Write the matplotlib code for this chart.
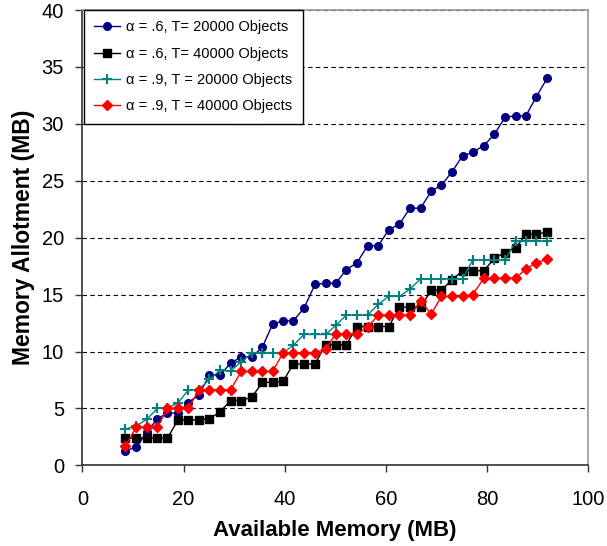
# Memory allotment vs. available memory for two alpha settings and two object counts

import matplotlib.pyplot as plt

plt.rcParams['font.family'] = ['Liberation Sans', 'DejaVu Sans']

# available memory (MB), shared by all four runs
avail_mb = [8.5, 10.6, 12.7, 14.8, 16.8, 18.9, 20.9, 23.0, 25.1, 27.2,
            29.3, 31.4, 33.5, 35.6, 37.6, 39.7, 41.7, 43.8, 46.0, 48.1,
            50.1, 52.2, 54.3, 56.4, 58.5, 60.6, 62.7, 64.8, 66.9, 69.0,
            71.0, 73.1, 75.2, 77.2, 79.4, 81.5, 83.6, 85.7, 87.7, 89.8,
            91.9]

# alpha = .6, T = 20000
a6_t20k = [1.3, 1.6, 2.9, 4.1, 4.6, 4.6, 5.5, 6.2, 7.9, 7.9,
           9.0, 9.5, 9.5, 10.4, 12.4, 12.7, 12.7, 13.8, 15.9, 16.0,
           16.0, 17.2, 17.8, 19.3, 19.3, 20.7, 21.2, 22.6, 22.6, 24.1,
           24.6, 25.8, 27.2, 27.5, 28.1, 29.1, 30.6, 30.7, 30.7, 32.4,
           34.0]

# alpha = .6, T = 40000
a6_t40k = [2.4, 2.4, 2.4, 2.4, 2.4, 4.0, 4.0, 4.0, 4.1, 4.7,
           5.7, 5.7, 6.0, 7.3, 7.3, 7.4, 8.9, 8.9, 8.9, 10.6,
           10.6, 10.6, 12.2, 12.2, 12.2, 12.2, 13.9, 13.9, 13.9, 15.4,
           15.4, 16.3, 17.1, 17.1, 17.1, 18.2, 18.7, 19.1, 20.3, 20.3,
           20.5]

# alpha = .9, T = 20000
a9_t20k = [3.2, 3.45, 4.05, 5.0, 5.05, 5.5, 6.6, 6.65, 7.55, 8.35,
           8.3, 9.1, 9.85, 9.9, 9.9, 9.9, 10.55, 11.5, 11.5, 11.5,
           12.3, 13.2, 13.2, 13.2, 14.15, 14.85, 14.85, 15.5, 16.4, 16.4,
           16.4, 16.4, 16.4, 18.05, 18.05, 18.05, 18.05, 19.7, 19.7, 19.7,
           19.7]

# alpha = .9, T = 40000
a9_t40k = [1.7, 3.35, 3.35, 3.35, 5.0, 5.0, 5.0, 6.6, 6.65, 6.65,
           6.65, 8.25, 8.25, 8.25, 8.25, 9.9, 9.9, 9.9, 9.9, 10.25,
           11.55, 11.55, 11.55, 12.15, 13.2, 13.2, 13.2, 13.2, 14.4, 13.3,
           14.85, 14.85, 14.85, 15.0, 16.45, 16.45, 16.45, 16.45, 17.25, 17.8,
           18.1]

labels = ['\u03b1 = .6, T= 20000 Objects',
          '\u03b1 = .6, T= 40000 Objects',
          '\u03b1 = .9, T = 20000 Objects',
          '\u03b1 = .9, T = 40000 Objects']


fig = plt.figure(figsize=(6.07, 5.46), dpi=100)
ax = fig.add_axes([0.1359, 0.1476, 0.8328, 0.834])

ax.plot(avail_mb, a6_t20k, color='#000080', lw=1, marker='o', ms=5.5,
        label=labels[0], zorder=3)
ax.plot(avail_mb, a6_t40k, color='black', lw=1, marker='s', ms=6,
        label=labels[1], zorder=3)
ax.plot(avail_mb, a9_t20k, color='#008080', lw=1, marker='+', ms=7, mew=1.5,
        label=labels[2], zorder=3)
ax.plot(avail_mb, a9_t40k, color='red', lw=1, marker='D', ms=5,
        label=labels[3], zorder=3)

ax.set_xlim(0, 100)
ax.set_ylim(0, 40)
ax.set_xticks(range(0, 101, 20))
ax.set_yticks(range(0, 41, 5))

# dashed horizontal gridlines only
ax.yaxis.grid(True, linestyle=(0, (4, 3)), color='black', lw=0.8)
ax.set_axisbelow(True)

ax.spines['left'].set_color('#333333')
ax.spines['bottom'].set_color('#333333')
ax.spines['top'].set_color('#999999')
ax.spines['right'].set_color('#999999')
for side in ['left', 'bottom', 'top', 'right']:
    ax.spines[side].set_linewidth(1.2)

ax.tick_params(axis='both', direction='out', length=5.3, width=1,
               color='#333333', labelsize=14.5)
ax.tick_params(axis='x', pad=12.5)
ax.tick_params(axis='y', pad=8)

ax.set_xlabel('Available Memory (MB)', fontsize=16, fontweight='bold',
              labelpad=8)
ax.set_ylabel('Memory Allotment (MB)', fontsize=16.5, fontweight='bold',
              labelpad=5)

leg = ax.legend(loc='upper left', bbox_to_anchor=(0.003, 1.0),
                borderaxespad=0, fancybox=False, framealpha=1,
                edgecolor='black', fontsize=10.5, handlelength=1.8,
                labelspacing=0.85, borderpad=0.7, handletextpad=0.4)
leg.get_frame().set_linewidth(1)

plt.savefig('out.png', dpi=100)
